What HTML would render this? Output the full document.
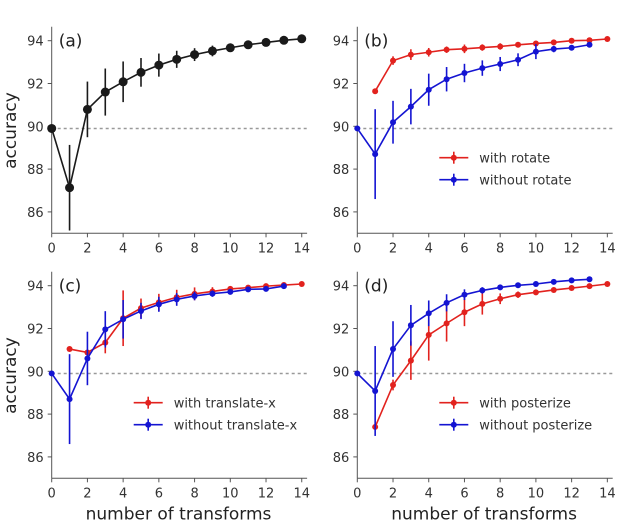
<!DOCTYPE html>
<html><head><meta charset="utf-8"><style>
body{margin:0;background:#fff}
svg{font-family:"DejaVu Sans","Liberation Sans",sans-serif;display:block}
</style></head><body>
<svg id="c" width="627" height="528"></svg>
<script>
const xs = [0,1,2,3,4,5,6,7,8,9,10,11,12,13,14];
const aVals = [89.9,87.13,90.79,91.6,92.08,92.52,92.86,93.13,93.35,93.52,93.67,93.81,93.92,94.02,94.09];
const aErr  = [0,2.0,1.3,1.1,0.95,0.67,0.54,0.4,0.3,0.25,0.15,0.1,0.08,0.05,0.05];
const bWith = [null,91.64,93.07,93.35,93.46,93.58,93.62,93.68,93.73,93.81,93.87,93.92,94.0,94.02,94.08];
const bWithErr = [0,0.05,0.2,0.25,0.2,0.15,0.2,0.15,0.15,0.1,0.08,0.08,0.05,0.05,0.05];
const bWo = [89.9,88.7,90.19,90.92,91.71,92.2,92.49,92.72,92.91,93.11,93.49,93.61,93.67,93.81,null];
const bWoErr = [0,2.1,1.0,0.83,0.75,0.57,0.43,0.36,0.33,0.3,0.35,0.15,0.08,0.05,0];
const cWith = [null,91.04,90.88,91.34,92.48,92.95,93.22,93.46,93.62,93.73,93.85,93.91,93.98,94.03,94.08];
const cWithErr = [0,0.05,0.1,0.5,1.3,0.45,0.4,0.35,0.3,0.2,0.12,0.1,0.08,0.05,0.05];
const cWo = [89.9,88.7,90.6,91.96,92.43,92.82,93.13,93.36,93.52,93.63,93.71,93.83,93.85,93.98,null];
const cWoErr = [0,2.1,1.25,0.85,0.9,0.38,0.35,0.3,0.2,0.15,0.12,0.1,0.1,0.05,0];
const dWith = [null,87.4,89.36,90.5,91.7,92.24,92.76,93.15,93.39,93.58,93.69,93.8,93.89,93.98,94.08];
const dWithErr = [0,0.1,0.25,0.9,1.2,0.85,0.65,0.5,0.25,0.15,0.1,0.08,0.05,0.05,0.05];
const dWo = [89.9,89.08,91.04,92.15,92.71,93.2,93.58,93.78,93.92,94.02,94.08,94.18,94.25,94.3,null];
const dWoErr = [0,2.1,1.3,0.95,0.6,0.4,0.25,0.15,0.1,0.08,0.05,0.05,0.05,0.05,0];
const yTicks = [86,88,90,92,94];
const xTicks = [0,2,4,6,8,10,12,14];
const baseline = 89.9;

const NS="http://www.w3.org/2000/svg", svg=document.getElementById('c');
function el(t,a,p){const e=document.createElementNS(NS,t);for(const k in a)e.setAttribute(k,a[k]);(p||svg).appendChild(e);return e;}
const RED="#e2221e", BLUE="#1414d2", BLK="#1a1a1a";

function panel(ox,oy,label,name,series,legend,showX,showY){
  const g=el('g',{});
  
  
  const X=v=>ox+v*17.86, Y=v=>oy-(v-94)*21.4;
  el('line',{x1:X(0),y1:Y(94.65),x2:X(0),y2:Y(85),stroke:'#555','stroke-width':1},g);
  el('line',{x1:X(0),y1:Y(85),x2:X(14.3),y2:Y(85),stroke:'#555','stroke-width':1},g);
  yTicks.forEach(t=>{
    el('line',{x1:X(0)-4,x2:X(0),y1:Y(t),y2:Y(t),stroke:'#555'},g);
    const tx=el('text',{x:X(0)-8,y:Y(t)+5,'text-anchor':'end','font-size':13,fill:'#333'},g);tx.textContent=t;
    
    
  });
  xTicks.forEach(t=>{
    el('line',{x1:X(t),x2:X(t),y1:Y(85),y2:Y(85)+4,stroke:'#555'},g);
    const tx=el('text',{x:X(t),y:Y(85)+19,'text-anchor':'middle','font-size':13,fill:'#333'},g);tx.textContent=t;
    
    
  });
  el('line',{x1:X(0),x2:X(14.3),y1:Y(baseline),y2:Y(baseline),stroke:'#999','stroke-width':1.5,'stroke-dasharray':'3,3'},g);
  const lt=el('text',{x:X(0)+7,y:Y(94)+6,'font-size':17,fill:'#222'},g);lt.textContent=label;
  
  
  series.forEach(s=>{
    const sg=el('g',{},g);
    
    
    let pts=[];
    s.v.forEach((v,i)=>{if(v!==null)pts.push(X(xs[i])+','+Y(v));});
    el('polyline',{points:pts.join(' '),fill:'none',stroke:s.c,'stroke-width':1.6},sg);
    s.v.forEach((v,i)=>{if(v===null)return;const e=s.e[i];
      if(e>0) el('line',{x1:X(xs[i]),x2:X(xs[i]),y1:Y(v-e),y2:Y(v+e),stroke:s.c,'stroke-width':1.6},sg);
      const m=el('circle',{cx:X(xs[i]),cy:Y(v),r:s.r,fill:s.c},sg);
      
      
    });
  });
  if(legend){
    legend.forEach((L,k)=>{
      const ly=oy+117+k*22, lx=ox+82;
      const lg=el('g',{},g);
      
      
      el('line',{x1:lx,x2:lx+29,y1:ly,y2:ly,stroke:L.c,'stroke-width':1.6},lg);
      el('line',{x1:lx+14.5,x2:lx+14.5,y1:ly-6,y2:ly+6,stroke:L.c,'stroke-width':1.6},lg);
      el('circle',{cx:lx+14.5,cy:ly,r:3,fill:L.c},lg);
      const t=el('text',{x:lx+40,y:ly+5,'font-size':13,fill:'#333'},lg);t.textContent=L.t;
    });
  }
  if(showY){
    const t=el('text',{x:0,y:0,'font-size':17,fill:'#222','text-anchor':'middle',transform:`translate(16,${Y(89.8)}) rotate(-90)`},g);t.textContent='accuracy';
    
    
  }
  if(showX){
    const t=el('text',{x:X(7.1),y:Y(85)+41,'font-size':17,fill:'#222','text-anchor':'middle'},g);t.textContent='number of transforms';
    
    
  }
}
panel(51.7,40.7,'(a)','panel-a',[{name:'series-all',v:aVals,e:aErr,c:BLK,r:4.5}],null,false,true);
panel(357.3,40.7,'(b)','panel-b',[{name:'series-with-rotate',v:bWith,e:bWithErr,c:RED,r:3},{name:'series-without-rotate',v:bWo,e:bWoErr,c:BLUE,r:3}],[{c:RED,t:'with rotate'},{c:BLUE,t:'without rotate'}],false,false);
panel(51.7,285.7,'(c)','panel-c',[{name:'series-with-translate-x',v:cWith,e:cWithErr,c:RED,r:3},{name:'series-without-translate-x',v:cWo,e:cWoErr,c:BLUE,r:3}],[{c:RED,t:'with translate-x'},{c:BLUE,t:'without translate-x'}],true,true);
panel(357.3,285.7,'(d)','panel-d',[{name:'series-with-posterize',v:dWith,e:dWithErr,c:RED,r:3},{name:'series-without-posterize',v:dWo,e:dWoErr,c:BLUE,r:3}],[{c:RED,t:'with posterize'},{c:BLUE,t:'without posterize'}],true,false);
</script>
</body></html>
